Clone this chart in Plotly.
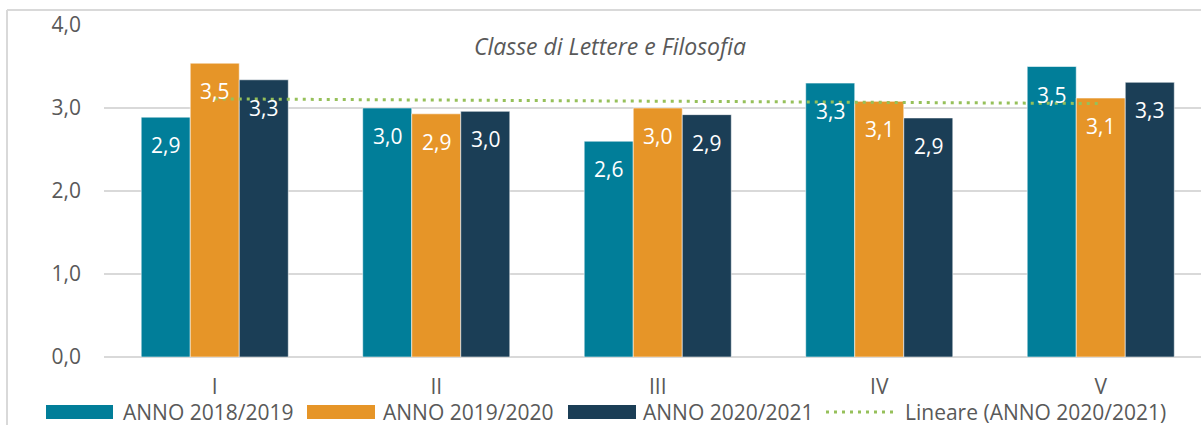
import numpy as np
import plotly.graph_objects as go

categories = ["I", "II", "III", "IV", "V"]
series_names = ["ANNO 2018/2019", "ANNO 2019/2020", "ANNO 2020/2021"]
anno_2018_2019 = [2.89, 3.00, 2.60, 3.30, 3.50]
anno_2019_2020 = [3.54, 2.93, 3.00, 3.08, 3.12]
anno_2020_2021 = [3.34, 2.96, 2.92, 2.88, 3.31]
y_ticks = [0, 1, 2, 3, 4]
trend_name = "Lineare (ANNO 2020/2021)"
title_text = "Classe di Lettere e Filosofia"

colors = ["#017E99", "#E69528", "#1B3E56"]
trend_color = "#96C05A"
text_color = "#595959"
grid_color = "#D9D9D9"
FONT = "Open Sans"

W, H = 1201, 425
ml, mr, mt, mb = 104, 0, 25, 68
bargap = 0.336
px_per_cat = 221.5
x_max = -0.5 + (W - ml) / px_per_cat

series = [anno_2018_2019, anno_2019_2020, anno_2020_2021]
xs = list(range(len(categories)))
fig = go.Figure()

bw = (1 - bargap) / len(series)
for k, (name, vals, col) in enumerate(zip(series_names, series, colors)):
    fig.add_trace(go.Bar(
        x=xs, y=vals, name=name, marker_color=col,
        marker_line=dict(color="rgba(255,255,255,0.55)", width=1),
        showlegend=False, hoverinfo="skip",
    ))

# linear trend of ANNO 2020/2021
xa = np.arange(len(categories))
slope, intercept = np.polyfit(xa, anno_2020_2021, 1)
fig.add_trace(go.Scatter(
    x=xs, y=(slope * xa + intercept).tolist(), mode="lines",
    line=dict(color=trend_color, width=3, dash="3px,5px"),
    showlegend=False, hoverinfo="skip",
))

annotations = []
for k, vals in enumerate(series):
    off = (k - (len(series) - 1) / 2) * bw
    for i, v in enumerate(vals):
        annotations.append(dict(
            x=i + off, y=v, xref="x", yref="y", yshift=-28,
            text=f"{v:.1f}".replace(".", ","), showarrow=False,
            font=dict(family=FONT, size=21, color="white"),
            xanchor="center", yanchor="middle",
        ))

# helpers: pixel -> paper coords
pw = W - ml - mr
ph = H - mt - mb
def px(x):
    return (x - ml) / pw
def py(y):
    return (H - mb - y) / ph

# manual legend
shapes = []
leg_y = 412
items = [
    (series_names[0], "box", colors[0], 46, 113, 121),
    (series_names[1], "box", colors[1], 307, 375, 381),
    (series_names[2], "box", colors[2], 568, 636, 641),
    (trend_name, "line", trend_color, 826, 898, 903),
]
for label, kind, col, x0, x1, tx in items:
    if kind == "box":
        shapes.append(dict(type="rect", xref="paper", yref="paper",
                           x0=px(x0), x1=px(x1), y0=py(leg_y + 7), y1=py(leg_y - 7),
                           fillcolor=col, line=dict(width=0)))
    else:
        shapes.append(dict(type="line", xref="paper", yref="paper",
                           x0=px(x0), x1=px(x1), y0=py(leg_y), y1=py(leg_y),
                           line=dict(color=col, width=3, dash="3px,5px")))
    annotations.append(dict(x=px(tx), y=py(leg_y), xref="paper", yref="paper",
                            text=label, showarrow=False, xanchor="left", yanchor="middle",
                            font=dict(family=FONT, size=21, color=text_color)))

# chart border (top & left visible)
shapes.append(dict(type="line", xref="paper", yref="paper", x0=px(7), x1=px(W + 5),
                   y0=py(10), y1=py(10), line=dict(color=grid_color, width=2)))
shapes.append(dict(type="line", xref="paper", yref="paper", x0=px(7), x1=px(7),
                   y0=py(10), y1=py(H + 5), line=dict(color=grid_color, width=2)))

fig.update_layout(
    width=W, height=H,
    margin=dict(l=ml, r=mr, t=mt, b=mb),
    paper_bgcolor="white", plot_bgcolor="white",
    barmode="group", bargap=bargap, bargroupgap=0,
    separators=",.",
    font=dict(family=FONT, size=21, color=text_color),
    title=dict(text=f"<i>{title_text}</i>", xref="container", yref="container",
               x=610 / W, y=1 - 47 / H, xanchor="center", yanchor="middle",
               font=dict(family=FONT, size=23, color=text_color)),
    xaxis=dict(tickmode="array", tickvals=xs, ticktext=categories,
               range=[-0.5, x_max], showgrid=False, zeroline=False,
               showline=False, ticks="", ticklabelstandoff=15,
               tickfont=dict(family=FONT, size=21, color=text_color)),
    yaxis=dict(range=[0, 4], tickvals=y_ticks, tickformat=".1f",
               showgrid=True, gridcolor=grid_color, gridwidth=2,
               zeroline=True, zerolinecolor=grid_color, zerolinewidth=2,
               showline=False, ticks="", ticklabelstandoff=22,
               tickfont=dict(family=FONT, size=21, color=text_color)),
    shapes=shapes, annotations=annotations,
)

fig.write_html("out.html", config={"displayModeBar": False},
               post_script="document.body.style.margin='0';document.body.style.overflow='hidden';")
